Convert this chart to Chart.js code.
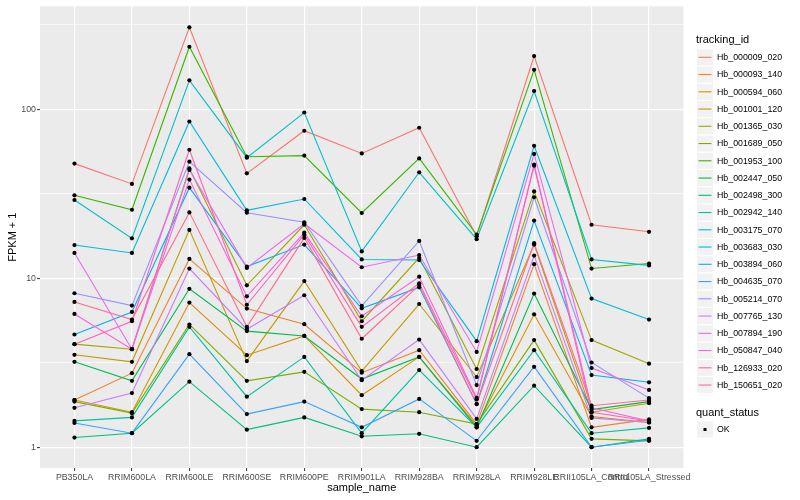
<!DOCTYPE html>
<html>
<head>
<meta charset="utf-8">
<script src="https://cdn.jsdelivr.net/npm/chart.js@4.4.0/dist/chart.umd.min.js"></script>
<style>
  html, body { margin: 0; padding: 0; background: #fff; }
  canvas { display: block; }
</style>
</head>
<body>
<canvas id="fpkm-chart" width="800" height="500"></canvas>
<script>
// samples on the x axis
const samples = ['PB350LA', 'RRIM600LA', 'RRIM600LE', 'RRIM600SE', 'RRIM600PE', 'RRIM901LA',
  'RRIM928BA', 'RRIM928LA', 'RRIM928LE', 'RRII105LA_Control', 'RRII105LA_Stressed'];

const trackingIds = ['Hb_000009_020', 'Hb_000093_140', 'Hb_000594_060', 'Hb_001001_120', 'Hb_001365_030',
  'Hb_001689_050', 'Hb_001953_100', 'Hb_002447_050', 'Hb_002498_300', 'Hb_002942_140',
  'Hb_003175_070', 'Hb_003683_030', 'Hb_003894_060', 'Hb_004635_070', 'Hb_005214_070',
  'Hb_007765_130', 'Hb_007894_190', 'Hb_050847_040', 'Hb_126933_020', 'Hb_150651_020'];

// FPKM + 1 per sample
const hb_000009_020 = [47.6, 36.1, 305, 41.7, 74.5, 54.7, 77.6, 17.7, 206, 20.7, 18.8];
const hb_000093_140 = [1.90, 2.74, 13.0, 6.61, 5.34, 2.76, 3.75, 1.37, 12.1, 1.31, 1.46];
const hb_000594_060 = [1.90, 1.61, 7.17, 3.50, 4.55, 2.03, 3.42, 1.34, 6.11, 1.52, 1.40];
const hb_001001_120 = [3.52, 3.20, 19.3, 3.23, 9.61, 2.82, 7.03, 2.60, 15.8, 1.61, 1.82];
const hb_001365_030 = [4.07, 3.80, 44.6, 9.07, 20.7, 5.56, 13.2, 2.90, 32.6, 4.30, 3.12];
const hb_001689_050 = [1.86, 1.59, 5.32, 2.47, 2.79, 1.68, 1.61, 1.37, 4.30, 1.12, 1.09];
const hb_001953_100 = [30.9, 25.4, 234, 52.3, 53.1, 24.3, 51.1, 18.1, 171, 11.4, 12.2];
const hb_002447_050 = [3.20, 2.47, 8.65, 4.86, 4.55, 2.53, 3.42, 1.31, 8.10, 1.67, 1.86];
const hb_002498_300 = [1.14, 1.21, 2.44, 1.27, 1.50, 1.16, 1.20, 1.00, 2.31, 1.00, 1.12];
const hb_002942_140 = [1.43, 1.50, 5.15, 1.99, 3.42, 1.21, 2.86, 1.31, 3.75, 1.21, 1.30];
const hb_003175_070 = [29.0, 17.2, 148, 51.6, 95.5, 14.4, 42.3, 17.0, 128, 12.9, 11.9];
const hb_003683_030 = [15.7, 14.1, 84.5, 25.2, 29.4, 12.9, 12.8, 4.24, 60.7, 7.57, 5.69];
const hb_003894_060 = [4.64, 6.31, 34.3, 11.7, 15.8, 6.63, 8.82, 1.80, 21.9, 2.67, 2.42];
const hb_004635_070 = [1.39, 1.21, 3.55, 1.57, 1.86, 1.31, 1.93, 1.09, 2.99, 1.00, 1.10];
const hb_005214_070 = [8.14, 6.88, 48.9, 24.4, 21.4, 6.86, 16.6, 2.33, 30.1, 3.17, 1.95];
const hb_007765_130 = [1.71, 2.09, 11.4, 4.99, 7.92, 2.49, 4.33, 1.47, 13.6, 1.49, 1.40];
const hb_007894_190 = [14.1, 3.80, 43.7, 11.5, 21.0, 11.6, 13.7, 3.66, 54.3, 2.94, 2.18];
const hb_050847_040 = [6.14, 3.80, 38.3, 7.81, 18.6, 5.95, 10.2, 1.96, 46.9, 1.71, 1.43];
const hb_126933_020 = [4.07, 5.56, 57.5, 6.96, 18.1, 5.15, 9.32, 1.92, 46.3, 1.61, 1.43];
const hb_150651_020 = [7.23, 5.69, 24.5, 5.15, 17.3, 4.38, 9.10, 1.80, 16.1, 1.76, 1.90];

const series = [hb_000009_020, hb_000093_140, hb_000594_060, hb_001001_120, hb_001365_030,
  hb_001689_050, hb_001953_100, hb_002447_050, hb_002498_300, hb_002942_140,
  hb_003175_070, hb_003683_030, hb_003894_060, hb_004635_070, hb_005214_070,
  hb_007765_130, hb_007894_190, hb_050847_040, hb_126933_020, hb_150651_020];

const yTicks = [1, 10, 100];

// ggplot hue palette, 20 levels
const palette = ['#F8766D', '#EA8331', '#D89000', '#C09B00', '#A3A500', '#7CAE00', '#39B600',
  '#00BB4E', '#00BF7D', '#00C1A3', '#00BFC4', '#00BAE0', '#00B0F6', '#35A2FF', '#9590FF',
  '#C77CFF', '#E76BF3', '#FA62DB', '#FF62BC', '#FF6C91'];

const FONT = '"Liberation Sans", Arial, sans-serif';

// minor grid lines half way between decades (log space)
const gridValues = [];
yTicks.forEach(t => { gridValues.push(t); gridValues.push(t * Math.sqrt(10)); });
const isMajor = v => yTicks.some(t => Math.abs(t - v) / t < 1e-6);

const lineSets = series.map((vals, i) => ({
  label: trackingIds[i],
  data: vals.map((v, j) => ({ x: j, y: v })),
  borderColor: palette[i],
  borderWidth: 1.1,
  pointRadius: 0,
  fill: false,
  tension: 0,
  order: 100 - i,
}));

const pointSet = {
  label: 'OK',
  data: series.flatMap(vals => vals.map((v, j) => ({ x: j, y: v }))),
  showLine: false,
  pointRadius: 2.1,
  pointBackgroundColor: '#000',
  pointBorderWidth: 0,
  order: -1,
};

// panel background, axis titles and the ggplot style legend
const ggLook = {
  id: 'ggLook',
  beforeDraw(chart) {
    const { ctx, chartArea: a } = chart;
    ctx.save();
    ctx.fillStyle = '#EBEBEB';
    ctx.fillRect(a.left, a.top, a.right - a.left, a.bottom - a.top);
    ctx.restore();
  },
  afterDraw(chart) {
    const { ctx, chartArea: a } = chart;
    ctx.save();
    ctx.fillStyle = '#000';
    ctx.font = '11px ' + FONT;
    ctx.textAlign = 'center';
    ctx.textBaseline = 'middle';
    ctx.fillText('sample_name', (a.left + a.right) / 2, 488);
    ctx.save();
    ctx.translate(13, (a.top + a.bottom) / 2);
    ctx.rotate(-Math.PI / 2);
    ctx.fillText('FPKM + 1', 0, 0);
    ctx.restore();

    // legend
    const lx = 697;
    ctx.textAlign = 'left';
    ctx.fillText('tracking_id', 696, 40);
    ctx.font = '8.8px ' + FONT;
    trackingIds.forEach((id, i) => {
      const cy = 57.3 + 17.25 * i;
      ctx.fillStyle = '#F2F2F2';
      ctx.fillRect(lx, cy - 8, 16, 16);
      ctx.strokeStyle = palette[i];
      ctx.lineWidth = 1.1;
      ctx.beginPath();
      ctx.moveTo(lx + 1.5, cy);
      ctx.lineTo(lx + 14.5, cy);
      ctx.stroke();
      ctx.fillStyle = '#000';
      ctx.fillText(id, 717, cy + 0.5);
    });
    ctx.font = '11px ' + FONT;
    ctx.fillText('quant_status', 696, 412.7);
    const oy = 429.5;
    ctx.fillStyle = '#F2F2F2';
    ctx.fillRect(lx, oy - 8, 16, 16);
    ctx.fillStyle = '#000';
    ctx.fillRect(lx + 6.5, oy - 1.5, 3, 3);
    ctx.font = '8.8px ' + FONT;
    ctx.fillText('OK', 717, oy + 0.5);
    ctx.restore();
  }
};

const ctx = document.getElementById('fpkm-chart').getContext('2d');

const fpkmChart = new Chart(ctx, {
  type: 'line',
  data: { datasets: [...lineSets, pointSet] },
  options: {
    responsive: false,
    animation: false,
    layout: { padding: { top: 5, right: 116.5, bottom: 0, left: 0 } },
    plugins: {
      legend: { display: false },
      tooltip: { enabled: false },
    },
    scales: {
      x: {
        type: 'linear',
        min: -0.6,
        max: samples.length - 0.4,
        afterFit(s) { s.height = 32; },
        afterBuildTicks(s) { s.ticks = samples.map((_, i) => ({ value: i })); },
        border: { display: false },
        grid: { color: '#FFFFFF', lineWidth: 1.2, tickColor: '#333333', tickLength: 3, tickWidth: 1 },
        ticks: {
          autoSkip: false, maxRotation: 0, minRotation: 0, padding: 1,
          color: '#4D4D4D', font: { family: FONT, size: 8.8 },
          callback: v => samples[v] ?? '',
        },
      },
      y: {
        type: 'logarithmic',
        min: 0.753,
        max: 406,
        afterFit(s) { s.width = 40; },
        afterBuildTicks(s) { s.ticks = gridValues.map(v => ({ value: v })); },
        border: { display: false },
        grid: {
          color: '#FFFFFF',
          lineWidth: c => (c.tick && isMajor(c.tick.value) ? 1.2 : 0.6),
          tickColor: c => (c.tick && isMajor(c.tick.value) ? '#333333' : 'rgba(0,0,0,0)'),
          tickLength: 3,
          tickWidth: 1,
        },
        ticks: {
          padding: 1,
          color: '#4D4D4D', font: { family: FONT, size: 8.8 },
          callback: v => (isMajor(v) ? String(Math.round(v)) : ''),
        },
      },
    },
  },
  plugins: [ggLook],
});
</script>
</body>
</html>
